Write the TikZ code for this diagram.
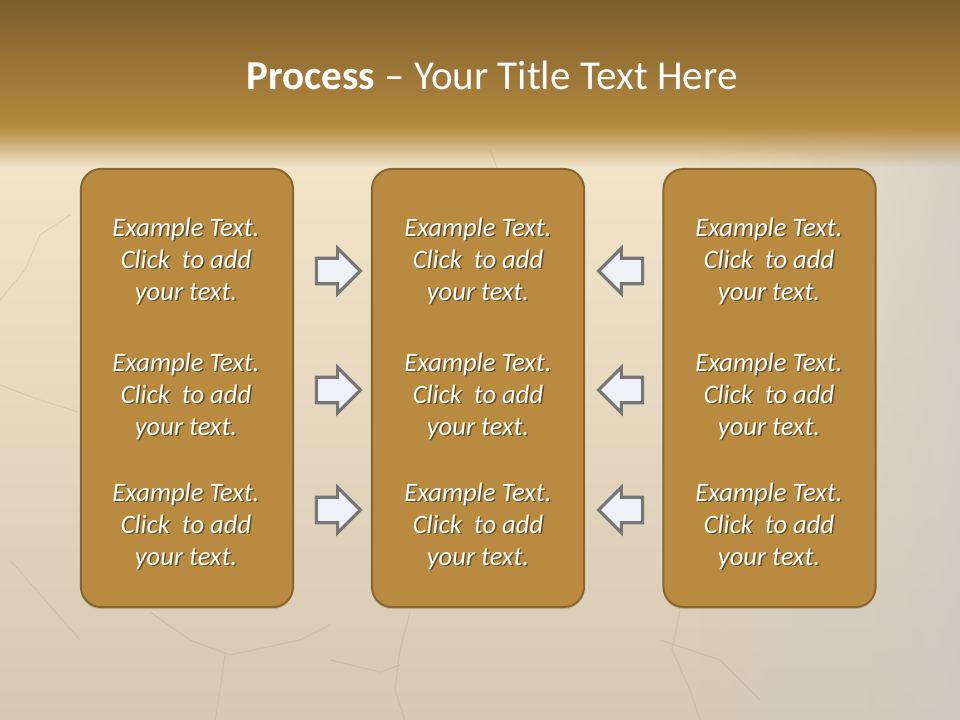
\documentclass[tikz,border=0pt]{standalone}
\usepackage{fontspec}
\setmainfont{Carlito}
\usepackage{tikz}
\usetikzlibrary{shapes.arrows,shadows,fadings}

\definecolor{bandtop}{RGB}{124,94,46}
\definecolor{bandbot}{RGB}{181,137,63}
\definecolor{wall}{RGB}{243,230,202}
\definecolor{wallbot}{RGB}{214,201,180}
\definecolor{wallgrey}{RGB}{204,202,198}
\definecolor{crack}{RGB}{120,110,100}
\definecolor{boxfill}{RGB}{185,139,64}
\definecolor{boxline}{RGB}{135,101,45}
\definecolor{arrfill}{RGB}{240,240,247}
\definecolor{arrline}{RGB}{118,118,118}

\tikzfading[name=fade right, left color=transparent!100, right color=transparent!0]
\tikzfading[name=fade down, top color=transparent!0, bottom color=transparent!100]

\newcommand{\blurbtext}{Example Text.\\Click~ to add\\your text.}

\begin{document}
\begin{tikzpicture}[x=0.025cm, y=-0.025cm,
                    stage/.style={draw=boxline, line width=1.4pt, fill=boxfill,
                                  rounded corners=0.5cm, minimum width=5.3cm, minimum height=10.95cm,
                                  drop shadow={shadow xshift=0pt, shadow yshift=-1.5pt, opacity=.35}},
                    blurb/.style={text=white, align=center, font=\fontsize{18.9}{22.7}\selectfont\itshape},
                    blurbshade/.style={blurb, text=black, opacity=.45},
                    fwd/.style={single arrow, draw=arrline, line width=2.2pt, fill=arrfill,
                                inner sep=0.28cm, single arrow head extend=0.25cm, minimum height=1.1cm},
                    bwd/.style={fwd, shape border rotate=180},
                    crackline/.style={draw=crack, line width=0.8pt, opacity=.15}]
  \useasboundingbox (0,0) rectangle (960,720);
  \shade[top color=wall, bottom color=wallbot] (0,127) rectangle (960,720);
  \fill[wallgrey, path fading=fade right, opacity=.7] (700,127) rectangle (960,720);
  \fill[bandbot, path fading=fade down] (0,127) rectangle (960,167);
  \shade[top color=bandtop, bottom color=bandbot] (0,0) rectangle (960,127);

  \draw[crackline] (0,300) -- (25,270) -- (40,235) -- (70,215);
  \draw[crackline] (0,385) -- (40,400) -- (78,412);
  \draw[crackline] (10,560) -- (45,600) -- (80,640);
  \draw[crackline] (150,612) -- (190,640) -- (230,655) -- (300,640) -- (330,625);
  \draw[crackline] (225,655) -- (220,690) -- (215,720);
  \draw[crackline] (410,612) -- (400,650) -- (395,690) -- (405,720);
  \draw[crackline] (330,660) -- (380,672) -- (400,665);
  \draw[crackline] (680,610) -- (672,650) -- (690,690) -- (700,720);
  \draw[crackline] (490,150) -- (500,175) -- (498,200) -- (505,225);
  \draw[crackline] (660,640) -- (720,660) -- (760,700);

  \node[text=white, font=\fontsize{29.2}{35}\selectfont] (title) at (492,75)
    {\textbf{Process} – Your Title Text Here};

  \node[stage] (stageL) at (187,388) {};
  \node[stage] (stageM) at (478,388) {};
  \node[stage] (stageR) at (769.5,388) {};

  \foreach \x in {186,478,769}
    \foreach \y in {261,396,526} {
      \node[blurbshade] at (\x+1.5,\y+1.5) {\blurbtext};
      \node[blurb] (t-\x-\y) at (\x,\y) {\blurbtext};
    }

  \foreach \y in {271,390,510} {
    \node[fwd] (fwd-\y) at (332,\y) {};
    \node[bwd] (bwd-\y) at (627,\y) {};
  }
\end{tikzpicture}
\end{document}
